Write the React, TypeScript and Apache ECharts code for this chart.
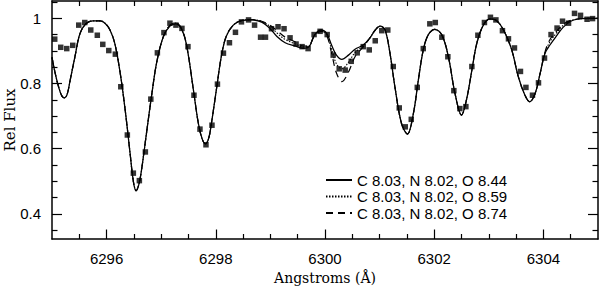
import React, { useEffect, useRef } from "react";
import * as echarts from "echarts";

// ---- data ----
const modelWave = [
  6295.0, 6295.06, 6295.12, 6295.18, 6295.23, 6295.28, 6295.33, 6295.42, 6295.51, 6295.62,
  6295.75, 6295.88, 6295.97, 6296.06, 6296.15, 6296.25, 6296.34, 6296.43, 6296.49, 6296.54,
  6296.59, 6296.64, 6296.73, 6296.83, 6296.92, 6297.04, 6297.16, 6297.27, 6297.38, 6297.47,
  6297.59, 6297.68, 6297.75, 6297.81, 6297.87, 6297.92, 6298.01, 6298.1, 6298.19, 6298.32,
  6298.47, 6298.66, 6298.84, 6298.99, 6299.12, 6299.27, 6299.45, 6299.6, 6299.71, 6299.81,
  6299.93, 6300.03, 6300.12, 6300.21, 6300.31, 6300.43, 6300.55, 6300.7, 6300.82, 6300.92,
  6301.01, 6301.1, 6301.19, 6301.28, 6301.4, 6301.51, 6301.62, 6301.71, 6301.8, 6301.89,
  6302.01, 6302.14, 6302.26, 6302.38, 6302.5, 6302.59, 6302.69, 6302.78, 6302.9, 6303.02,
  6303.14, 6303.27, 6303.42, 6303.54, 6303.66, 6303.75, 6303.85, 6303.94, 6304.03, 6304.12,
  6304.24, 6304.36, 6304.49, 6304.64, 6304.82, 6305.0,
];

const fluxO844 = [
  0.88, 0.83, 0.79, 0.762, 0.756, 0.768, 0.808, 0.882, 0.952, 0.983,
  0.992, 0.992, 0.985, 0.965, 0.923, 0.831, 0.719, 0.586, 0.5, 0.471,
  0.49, 0.535, 0.647, 0.77, 0.867, 0.944, 0.976, 0.983, 0.964, 0.913,
  0.78, 0.678, 0.63, 0.615, 0.632, 0.678, 0.78, 0.882, 0.944, 0.979,
  0.993, 0.995, 0.988, 0.969, 0.944, 0.925, 0.915, 0.908, 0.913, 0.949,
  0.964, 0.954, 0.918, 0.887, 0.874, 0.887, 0.905, 0.918, 0.939, 0.964,
  0.976, 0.964, 0.893, 0.79, 0.678, 0.645, 0.709, 0.811, 0.903, 0.949,
  0.966, 0.949, 0.882, 0.77, 0.703, 0.749, 0.841, 0.923, 0.979, 0.998,
  0.993, 0.964, 0.903, 0.821, 0.765, 0.744, 0.77, 0.831, 0.893, 0.918,
  0.946, 0.972, 0.99, 0.998, 1.0, 1.0,
];

const fluxO859 = [
  0.88, 0.83, 0.79, 0.762, 0.756, 0.768, 0.808, 0.882, 0.952, 0.983,
  0.992, 0.992, 0.985, 0.965, 0.923, 0.831, 0.719, 0.586, 0.5, 0.471,
  0.49, 0.535, 0.647, 0.77, 0.867, 0.944, 0.978, 0.985, 0.965, 0.913,
  0.78, 0.678, 0.63, 0.615, 0.632, 0.678, 0.78, 0.882, 0.944, 0.979,
  0.993, 0.996, 0.99, 0.976, 0.955, 0.935, 0.922, 0.912, 0.915, 0.948,
  0.962, 0.95, 0.905, 0.86, 0.845, 0.865, 0.895, 0.915, 0.939, 0.964,
  0.976, 0.964, 0.893, 0.79, 0.678, 0.645, 0.709, 0.811, 0.903, 0.949,
  0.966, 0.949, 0.882, 0.77, 0.703, 0.749, 0.841, 0.923, 0.979, 0.998,
  0.993, 0.964, 0.903, 0.821, 0.765, 0.744, 0.77, 0.831, 0.895, 0.928,
  0.955, 0.978, 0.992, 0.998, 1.0, 1.0,
];

const fluxO874 = [
  0.88, 0.83, 0.79, 0.762, 0.756, 0.768, 0.808, 0.882, 0.952, 0.983,
  0.992, 0.992, 0.985, 0.965, 0.923, 0.831, 0.719, 0.586, 0.5, 0.471,
  0.49, 0.535, 0.647, 0.77, 0.867, 0.944, 0.979, 0.986, 0.966, 0.913,
  0.78, 0.678, 0.63, 0.615, 0.632, 0.678, 0.78, 0.882, 0.944, 0.979,
  0.993, 0.996, 0.991, 0.979, 0.962, 0.942, 0.928, 0.915, 0.918, 0.947,
  0.96, 0.948, 0.893, 0.832, 0.806, 0.835, 0.882, 0.912, 0.939, 0.964,
  0.976, 0.964, 0.893, 0.79, 0.678, 0.645, 0.709, 0.811, 0.903, 0.949,
  0.966, 0.949, 0.882, 0.77, 0.703, 0.749, 0.841, 0.923, 0.979, 0.998,
  0.993, 0.964, 0.903, 0.821, 0.765, 0.744, 0.77, 0.831, 0.897, 0.935,
  0.96, 0.981, 0.993, 0.998, 1.0, 1.0,
];

const obsWave = [
  6295.05, 6295.16, 6295.27, 6295.38, 6295.49, 6295.6, 6295.71, 6295.83, 6295.93, 6296.04,
  6296.16, 6296.26, 6296.38, 6296.49, 6296.6, 6296.71, 6296.81, 6296.93, 6297.05, 6297.16,
  6297.27, 6297.38, 6297.49, 6297.6, 6297.71, 6297.82, 6297.93, 6298.03, 6298.14, 6298.25,
  6298.36, 6298.47, 6298.6, 6298.71, 6298.82, 6298.91, 6299.02, 6299.14, 6299.25, 6299.36,
  6299.47, 6299.58, 6299.69, 6299.8, 6299.91, 6300.04, 6300.15, 6300.26, 6300.37, 6300.48,
  6300.59, 6300.7, 6300.81, 6300.92, 6301.04, 6301.15, 6301.25, 6301.36, 6301.47, 6301.58,
  6301.69, 6301.8, 6301.92, 6302.02, 6302.14, 6302.25, 6302.36, 6302.47, 6302.58, 6302.69,
  6302.8, 6302.92, 6303.03, 6303.13, 6303.25, 6303.36, 6303.47, 6303.58, 6303.68, 6303.8,
  6303.91, 6304.02, 6304.14, 6304.25, 6304.35, 6304.46, 6304.57, 6304.68, 6304.8, 6304.9,
];

const obsFlux = [
  0.936, 0.911, 0.907, 0.917, 0.979, 0.987, 0.964, 0.948, 0.92, 0.901,
  0.89, 0.79, 0.642, 0.525, 0.502, 0.59, 0.752, 0.894, 0.956, 0.985,
  0.979, 0.969, 0.913, 0.764, 0.66, 0.612, 0.672, 0.798, 0.893, 0.925,
  0.957, 0.989, 0.995, 0.979, 0.942, 0.942, 0.968, 0.974, 0.968, 0.94,
  0.921, 0.913, 0.907, 0.95, 0.96, 0.95, 0.887, 0.845, 0.841, 0.868,
  0.894, 0.913, 0.903, 0.931, 0.962, 0.964, 0.852, 0.725, 0.667, 0.69,
  0.788, 0.907, 0.983, 0.987, 0.942, 0.882, 0.778, 0.723, 0.729, 0.852,
  0.948, 0.987, 1.003, 0.995, 0.962, 0.937, 0.909, 0.837, 0.788, 0.764,
  0.802, 0.878, 0.95, 0.97, 0.991, 0.985, 1.015, 1.009, 0.997, 0.999,
];

const seriesNames = [
  "C 8.03, N 8.02, O 8.44",
  "C 8.03, N 8.02, O 8.59",
  "C 8.03, N 8.02, O 8.74",
];

const xMajorTicks = [6296, 6298, 6300, 6302, 6304];
const xMinorTicks = [
  6295.5, 6296.5, 6297, 6297.5, 6298.5, 6299, 6299.5, 6300.5, 6301, 6301.5,
  6302.5, 6303, 6303.5, 6304.5,
];
const yMajorTicks = [0.4, 0.6, 0.8, 1.0];
const yMinorTicks = [0.35, 0.45, 0.5, 0.55, 0.65, 0.7, 0.75, 0.85, 0.9, 0.95, 1.05];

const X_MIN = 6295;
const X_MAX = 6305;
const Y_MIN = 0.323;
const Y_MAX = 1.053;

const SANS = "'Liberation Sans', Arial, Helvetica, sans-serif";
const SERIF = "'DejaVu Serif', serif";

function pair(a: number[], b: number[]) {
  return a.map((v, i) => [v, b[i]]);
}

function xAxisDef(pos: "top" | "bottom", major: boolean, main: boolean) {
  return {
    type: "value",
    gridIndex: 0,
    position: pos,
    min: X_MIN,
    max: X_MAX,
    axisLine: { show: main, lineStyle: { color: "#000", width: 1.5 } },
    axisTick: {
      show: true,
      inside: true,
      length: major ? 9.5 : 5,
      customValues: major ? xMajorTicks : xMinorTicks,
      lineStyle: { color: "#000", width: 1.2 },
    },
    axisLabel: {
      show: main && pos === "bottom",
      customValues: xMajorTicks,
      color: "#000",
      fontSize: 15,
      fontFamily: SANS,
      margin: 12,
      formatter: (v: number) => String(v),
    },
    splitLine: { show: false },
    ...(main && pos === "bottom"
      ? {
          name: "Angstroms (Å)",
          nameLocation: "middle",
          nameGap: 32,
          nameTextStyle: { color: "#000", fontSize: 14, fontFamily: SERIF },
        }
      : {}),
  };
}

function yAxisDef(pos: "left" | "right", major: boolean, main: boolean) {
  return {
    type: "value",
    gridIndex: 0,
    position: pos,
    min: Y_MIN,
    max: Y_MAX,
    axisLine: { show: main, lineStyle: { color: "#000", width: 1.5 } },
    axisTick: {
      show: true,
      inside: true,
      length: major ? 10 : 5.5,
      customValues: major ? yMajorTicks : yMinorTicks,
      lineStyle: { color: "#000", width: 1.2 },
    },
    axisLabel: {
      show: main && pos === "left",
      customValues: yMajorTicks,
      color: "#000",
      fontSize: 15,
      fontFamily: SANS,
      margin: 11,
      align: "right",
      formatter: (v: number) => String(Math.round(v * 100) / 100),
    },
    splitLine: { show: false },
    ...(main && pos === "left"
      ? {
          name: "Rel Flux",
          nameLocation: "middle",
          nameGap: 35,
          nameMoveOverlap: false,
          nameTextStyle: { color: "#000", fontSize: 15, fontFamily: SERIF },
        }
      : {}),
  };
}

export default function App() {
  const ref = useRef<HTMLDivElement>(null);

  useEffect(() => {
    if (!ref.current) return;
    const chart = echarts.init(ref.current, null, { renderer: "svg" });
    const lineCommon = {
      type: "line",
      xAxisIndex: 0,
      yAxisIndex: 0,
      showSymbol: false,
      symbol: "none",
      smooth: 0.35,
      z: 2,
    };
    const option: any = {
      animation: false,
      backgroundColor: "#fff",
      grid: {
        left: 52,
        top: 1,
        width: 546,
        height: 238,
        containLabel: false,
        outerBoundsMode: "none",
      },
      xAxis: [
        xAxisDef("bottom", true, true),
        xAxisDef("bottom", false, false),
        xAxisDef("top", true, true),
        xAxisDef("top", false, false),
      ],
      yAxis: [
        yAxisDef("left", true, true),
        yAxisDef("left", false, false),
        yAxisDef("right", true, true),
        yAxisDef("right", false, false),
      ],
      legend: {
        show: true,
        orient: "vertical",
        left: 325,
        top: 172.5,
        padding: 0,
        itemWidth: 26,
        itemHeight: 14,
        itemGap: 1.5,
        selectedMode: false,
        data: seriesNames,
        itemStyle: { opacity: 0 },
        textStyle: { color: "#000", fontSize: 15, fontFamily: SANS },
      },
      series: [
        {
          ...lineCommon,
          name: seriesNames[0],
          data: pair(modelWave, fluxO844),
          lineStyle: { color: "#000", width: 1.3, type: "solid" },
          itemStyle: { color: "#000" },
        },
        {
          ...lineCommon,
          name: seriesNames[1],
          data: pair(modelWave, fluxO859),
          lineStyle: { color: "#000", width: 1.1, type: [1.5, 1.5] },
          itemStyle: { color: "#000" },
        },
        {
          ...lineCommon,
          name: seriesNames[2],
          data: pair(modelWave, fluxO874),
          lineStyle: { color: "#000", width: 1.2, type: [7, 5] },
          itemStyle: { color: "#000" },
        },
        {
          type: "scatter",
          name: "observed",
          xAxisIndex: 0,
          yAxisIndex: 0,
          data: pair(obsWave, obsFlux),
          symbol: "rect",
          symbolSize: 5.5,
          itemStyle: { color: "#000" },
          z: 3,
        },
      ],
    };
    chart.setOption(option);
    return () => chart.dispose();
  }, []);

  return (
    <div
      ref={ref}
      style={{ position: "absolute", left: 0, top: 0, width: 600, height: 288, background: "#fff" }}
    />
  );
}
